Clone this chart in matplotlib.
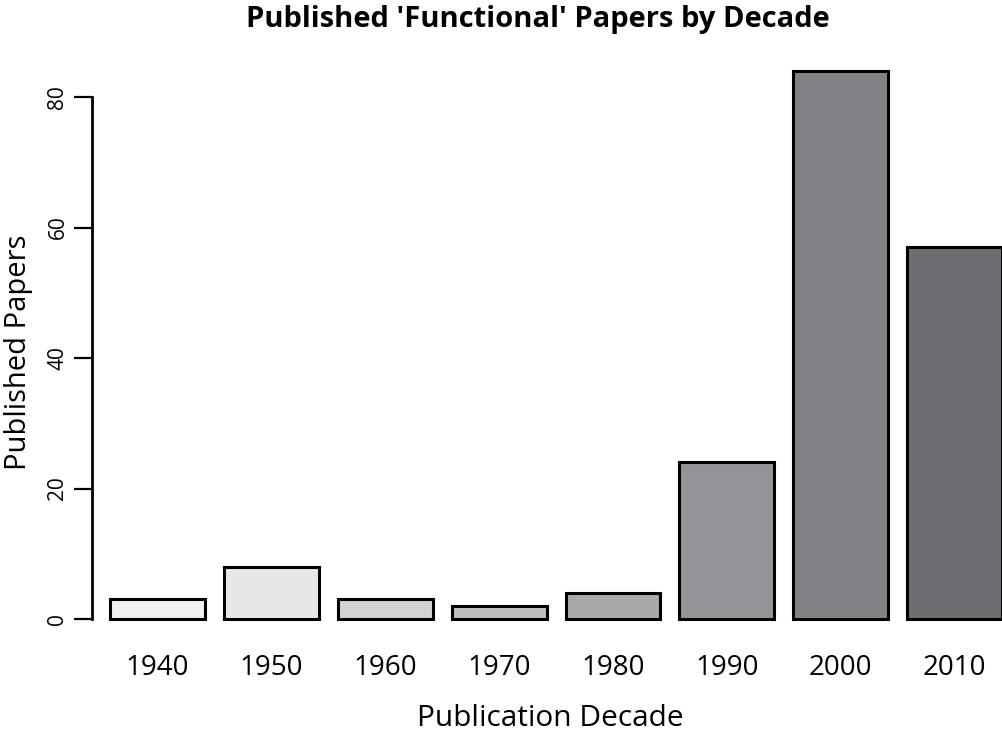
import matplotlib
matplotlib.use("Agg")
import matplotlib.pyplot as plt
import numpy as np

decades = ["1940", "1950", "1960", "1970", "1980", "1990", "2000", "2010"]
papers = [3, 8, 3, 2, 4, 24, 84, 57]
colors = ["#f1f1f2", "#e6e7e8", "#d1d2d4", "#bcbec0",
          "#a7a9ac", "#939598", "#808285", "#6d6e71"]
yticks = [0, 20, 40, 60, 80]

plt.rcParams['font.family'] = ['Open Sans', 'DejaVu Sans']

fig = plt.figure(figsize=(10.03, 7.39), dpi=100)
ax = fig.add_axes([92 / 1003, 120 / 739, 910 / 1003, 561 / 739])

# R style barplot: width 1, space 0.2
x = 0.7 + 1.2 * np.arange(len(papers))
bars = ax.bar(x, papers, width=1.0, color=colors, edgecolor="black", linewidth=2.2)
for b in bars:
    b.set_clip_on(False)

ax.set_xlim(0.01, 9.6)
ax.set_ylim(0, 86)

for s in ["top", "right", "bottom"]:
    ax.spines[s].set_visible(False)
ax.spines["left"].set_bounds(0, 80)
ax.spines["left"].set_linewidth(2.0)

ax.set_yticks(yticks)
ax.set_yticklabels([str(v) for v in yticks], rotation=90, va="center", fontsize=15)
ax.tick_params(axis="y", length=13, width=1.6, pad=4)

ax.set_xticks(x)
ax.set_xticklabels(decades, fontsize=20)
ax.tick_params(axis="x", length=0, pad=25)

fig.text(0.549, 1 - 719 / 739, "Publication Decade", fontsize=21.5,
         ha="center", va="center")
fig.text(0.018, 1 - 352 / 739, "Published Papers", fontsize=21,
         rotation=90, ha="center", va="center")
fig.text(0.536, 1 - 20 / 739, "Published 'Functional' Papers by Decade",
         fontsize=21, fontweight="bold", ha="center", va="center")

fig.savefig("out.png", dpi=100)
